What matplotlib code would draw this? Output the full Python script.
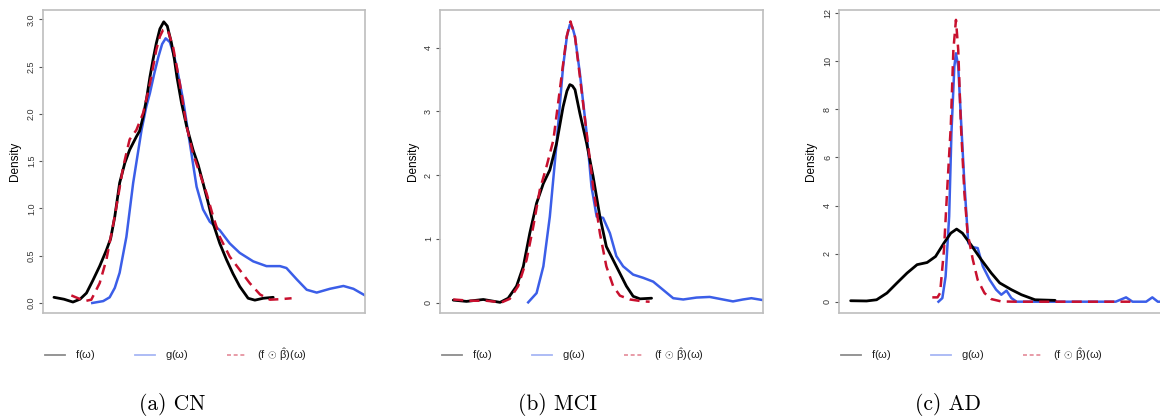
import matplotlib
matplotlib.use("Agg")
import matplotlib.pyplot as plt

plt.rcParams['font.family'] = ['Liberation Sans', 'DejaVu Sans']
plt.rcParams['mathtext.fontset'] = 'custom'
plt.rcParams['mathtext.rm'] = 'Liberation Sans'
plt.rcParams['mathtext.it'] = 'Liberation Sans'
plt.rcParams['mathtext.bf'] = 'Liberation Sans:bold'

# ---------------- data (omega on an arbitrary 0-100 scale) ----------------
# Panel (a) CN
cn_f_x = [3.4, 6.5, 9.3, 11.5, 13.5, 15.5, 17.6, 19.7, 21.0, 22.3, 23.8, 25.4, 26.9, 29.0, 30.0, 31.1, 32.2,
          33.2, 34.2, 35.2, 36.3, 37.5, 38.6, 39.9, 40.8, 41.6, 43.0, 44.6, 46.6, 48.2, 49.7, 51.3, 52.8,
          54.9, 57.0, 59.0, 61.1, 63.7, 65.8, 68.4, 71.5]
cn_f_y = [0.06, 0.04, 0.01, 0.04, 0.105, 0.24, 0.39, 0.56, 0.68, 0.915, 1.27, 1.48, 1.62, 1.76, 1.82, 1.97, 2.17,
          2.39, 2.58, 2.75, 2.90, 2.975, 2.93, 2.75, 2.58, 2.39, 2.12, 1.87, 1.62, 1.46, 1.27, 1.06, 0.845,
          0.63, 0.457, 0.31, 0.175, 0.05, 0.03, 0.05, 0.06]
cn_g_x = [15.3, 18.7, 20.7, 22.3, 23.8, 25.9, 28.0, 30.6, 32.1, 33.2, 34.5, 35.8, 37.0, 38.1, 39.4, 40.5, 41.5,
          43.5, 45.6, 47.7, 49.7, 51.8, 54.9, 58.0, 61.1, 65.3, 69.4, 73.6, 75.6, 78.8, 81.9, 85.0, 89.1,
          93.3, 96.4, 100.0]
cn_g_y = [0.0, 0.02, 0.06, 0.16, 0.32, 0.70, 1.27, 1.83, 2.08, 2.22, 2.42, 2.60, 2.74, 2.80, 2.76, 2.64, 2.50,
          2.15, 1.69, 1.23, 0.99, 0.86, 0.77, 0.63, 0.53, 0.44, 0.39, 0.39, 0.37, 0.25, 0.14, 0.11, 0.15,
          0.18, 0.15, 0.08]
cn_h_x = [8.8, 10.9, 13.0, 15.0, 17.6, 19.7, 22.3, 24.9, 26.9, 29.0, 31.1, 33.2, 35.2, 36.3, 37.3, 38.2,
          38.9, 40.4, 42.5, 44.6, 46.6, 48.7, 50.8, 52.8, 54.9, 58.0, 61.1, 64.2, 67.4, 70.5, 73.6, 77.2]
cn_h_y = [0.08, 0.05, 0.02, 0.035, 0.21, 0.46, 0.92, 1.44, 1.73, 1.83, 2.01, 2.32, 2.68, 2.82, 2.89, 2.90,
          2.87, 2.71, 2.32, 1.87, 1.58, 1.37, 1.16, 0.92, 0.70, 0.49, 0.35, 0.21, 0.09, 0.035, 0.04, 0.05]

# Panel (b) MCI
mci_f_x = [4.1, 8.2, 13.4, 18.6, 21.1, 23.7, 25.8, 27.8, 29.9, 32.0, 34.0, 36.1, 38.1, 39.3, 40.2, 41.0,
           41.8, 43.3, 45.4, 47.4, 49.5, 51.5, 53.6, 55.7, 57.7, 59.8, 61.9, 65.5]
mci_f_y = [0.04, 0.02, 0.05, 0.005, 0.07, 0.26, 0.57, 1.09, 1.56, 1.87, 2.08, 2.50, 3.07, 3.32, 3.42, 3.40,
           3.34, 2.97, 2.50, 1.98, 1.35, 0.88, 0.67, 0.46, 0.26, 0.10, 0.06, 0.07]
mci_g_x = [27.3, 29.9, 32.0, 34.0, 36.1, 38.1, 39.3, 40.2, 41.0, 41.8, 43.3, 45.4, 46.9, 48.5, 50.5, 52.6,
           54.6, 56.7, 59.8, 62.9, 66.0, 69.1, 72.2, 75.3, 79.4, 83.5, 87.6, 90.7, 93.8, 96.4, 100.0]
mci_g_y = [0.005, 0.15, 0.57, 1.35, 2.50, 3.70, 4.18, 4.36, 4.32, 4.17, 3.60, 2.66, 1.82, 1.35, 1.33, 1.09,
           0.73, 0.57, 0.44, 0.39, 0.33, 0.20, 0.07, 0.05, 0.08, 0.09, 0.05, 0.02, 0.05, 0.07, 0.04]
mci_h_x = [4.1, 9.3, 14.4, 19.1, 21.6, 24.2, 26.8, 28.9, 30.9, 33.0, 35.1, 37.1, 39.2, 40.4, 41.8, 43.3,
           45.4, 47.4, 49.5, 51.5, 53.6, 55.7, 58.8, 62.9, 64.9]
mci_h_y = [0.05, 0.03, 0.03, 0.005, 0.06, 0.26, 0.67, 1.20, 1.77, 2.14, 2.55, 3.34, 4.17, 4.41, 4.17, 3.55,
           2.66, 1.82, 1.09, 0.57, 0.26, 0.11, 0.05, 0.02, 0.015]

# Panel (c) AD
ad_f_x = [3.6, 8.5, 11.6, 14.8, 17.9, 21.0, 24.1, 27.2, 29.8, 32.4, 34.5, 36.3, 38.1, 40.7, 43.9, 47.0,
          49.6, 53.2, 56.3, 60.5, 66.7]
ad_f_y = [0.04, 0.03, 0.08, 0.36, 0.78, 1.19, 1.54, 1.63, 1.88, 2.44, 2.85, 3.02, 2.85, 2.37, 1.75, 1.19,
          0.78, 0.50, 0.29, 0.08, 0.055]
ad_g_x = [30.7, 31.9, 32.9, 34.0, 34.7, 35.6, 36.1, 36.8, 37.6, 38.7, 39.9, 41.3, 42.8, 44.4, 46.5, 48.5,
          50.1, 51.7, 53.2, 54.8, 85.4, 88.6, 90.6, 94.8, 96.7, 98.4, 100.0]
ad_g_y = [0.0, 0.15, 1.05, 3.55, 7.0, 9.78, 10.33, 9.78, 7.70, 4.93, 2.44, 2.27, 2.23, 1.47, 0.91, 0.50,
          0.29, 0.46, 0.15, 0.0, 0.0, 0.18, 0.0, 0.0, 0.18, 0.0, 0.0]
ad_h_x = [28.8, 30.4, 31.2, 32.4, 33.5, 34.5, 35.3, 36.1, 36.8, 37.6, 38.7, 39.7, 41.3, 42.8, 44.9, 47.0,
          50.1, 54.3, 91.7]
ad_h_y = [0.18, 0.18, 0.36, 2.16, 4.93, 7.29, 10.47, 11.72, 10.47, 7.42, 4.52, 2.85, 1.75, 0.91, 0.36, 0.11,
          0.01, 0.0, 0.0]

panel_titles = ["(a) CN", "(b) MCI", "(c) AD"]
yticks = [[0.0, 0.5, 1.0, 1.5, 2.0, 2.5, 3.0], [0, 1, 2, 3, 4], [0, 2, 4, 6, 8, 10, 12]]
ytick_labels = [["0.0", "0.5", "1.0", "1.5", "2.0", "2.5", "3.0"], ["0", "1", "2", "3", "4"],
                ["0", "2", "4", "6", "8", "10", "12"]]
legend_labels = [r"f$(\omega)$", r"g$(\omega)$", r"(f$\,\odot\,\hat{\beta}$)$(\omega)$"]

series = [
    (cn_f_x, cn_f_y, cn_g_x, cn_g_y, cn_h_x, cn_h_y),
    (mci_f_x, mci_f_y, mci_g_x, mci_g_y, mci_h_x, mci_h_y),
    (ad_f_x, ad_f_y, ad_g_x, ad_g_y, ad_h_x, ad_h_y),
]

# ---------------- layout ----------------
W, H = 1160, 419
fig = plt.figure(figsize=(W / 100, H / 100), dpi=100)
axes_px = [(43, 365), (440, 763), (839, 1163)]
caption_cx = [172, 557, 948]
top_px, bot_px = 10, 313
ylims = [(-0.106, 3.10), (-0.162, 4.59), (-0.47, 12.13)]

BLUE = "#3B5EE8"
RED = "#C8102E"
GREY = "#BEBEBE"

for i, (l, r) in enumerate(axes_px):
    ax = fig.add_axes([l / W, 1 - bot_px / H, (r - l) / W, (bot_px - top_px) / H])
    fx, fy, gx, gy, hx, hy = series[i]
    ax.plot(fx, fy, color="black", lw=2.0, solid_joinstyle="round", solid_capstyle="round", zorder=3)
    ax.plot(gx, gy, color=BLUE, lw=1.8, solid_joinstyle="round", zorder=2)
    ax.plot(hx, hy, color=RED, lw=1.8, dashes=(4, 2.5), zorder=4)
    ax.set_xlim(0, 100)
    ax.set_ylim(*ylims[i])
    ax.set_xticks([])
    ax.set_yticks(yticks[i])
    ax.set_yticklabels(ytick_labels[i], rotation=90, va="center", fontsize=6.5, color="#333333")
    ax.tick_params(axis="y", length=3, width=0.8, color="#555555", pad=2)
    for s in ax.spines.values():
        s.set_color(GREY)
        s.set_linewidth(1.2)
    ax.set_ylabel("Density", fontsize=8.5, labelpad=4)

    # legend row below the panel
    base = l + 2
    leg_y = 1 - 355 / H
    items = [(base, "black", "-"), (base + 90, BLUE, "-"), (base + 182, RED, "--")]
    for (x0, c, ls), lab in zip(items, legend_labels):
        line = plt.Line2D([x0 / W, (x0 + 20) / W], [leg_y, leg_y], transform=fig.transFigure,
                          color=c, lw=1.3, ls=ls, alpha=0.45, dashes=(2.2, 1.5) if ls == "--" else (None, None))
        fig.add_artist(line)
        fig.text((x0 + 30) / W, leg_y, lab, fontsize=8, va="center", ha="left", color="#222222")

    # caption
    fig.text(caption_cx[i] / W, 1 - 404 / H, panel_titles[i], fontsize=15.5,
             family="cmr10", ha="center", va="center")

fig.savefig("out.png", dpi=100)
